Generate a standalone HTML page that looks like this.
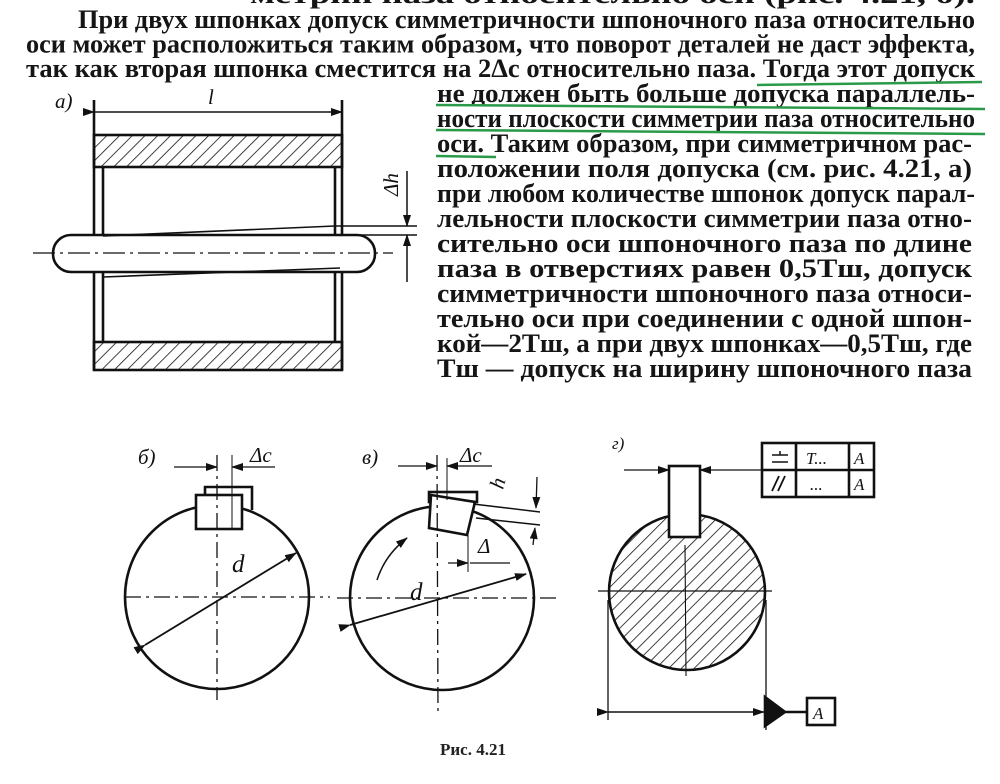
<!DOCTYPE html>
<html><head><meta charset="utf-8"><style>
html,body{margin:0;padding:0;background:#fff;}
svg{display:block}
.t{font-family:"Liberation Serif",serif;font-size:26px;fill:#151515;font-weight:bold}
</style></head><body>
<svg width="1000" height="784" viewBox="0 0 1000 784" xmlns="http://www.w3.org/2000/svg">
<defs>
<pattern id="h" width="9" height="9" patternUnits="userSpaceOnUse" patternTransform="rotate(45)">
<line x1="0" y1="0" x2="0" y2="9" stroke="#111" stroke-width="1.6"/>
</pattern>
<marker id="ar" markerWidth="12" markerHeight="8" refX="11" refY="4" orient="auto" markerUnits="userSpaceOnUse">
<path d="M0,0 L12,4 L0,8 z" fill="#111"/></marker>
</defs>
<g class="t">
<text x="250" y="3" textLength="725" lengthAdjust="spacingAndGlyphs">метрии паза относительно оси (рис. 4.21, б).</text>
<text x="78" y="28" textLength="897" lengthAdjust="spacingAndGlyphs">При двух шпонках допуск симметричности шпоночного паза относительно</text>
<text x="26" y="52.5" textLength="949" lengthAdjust="spacingAndGlyphs">оси может расположиться таким образом, что поворот деталей не даст эффекта,</text>
<text x="26" y="77" textLength="949" lengthAdjust="spacingAndGlyphs">так как вторая шпонка сместится на 2Δc относительно паза. Тогда этот допуск</text>
<text x="437" y="102" textLength="538" lengthAdjust="spacingAndGlyphs">не должен быть больше допуска параллель-</text>
<text x="437" y="127" textLength="538" lengthAdjust="spacingAndGlyphs">ности плоскости симметрии паза относительно</text>
<text x="437" y="152" textLength="535" lengthAdjust="spacingAndGlyphs">оси. Таким образом, при симметричном рас-</text>
<text x="437" y="177" textLength="535" lengthAdjust="spacingAndGlyphs">положении поля допуска (см. рис. 4.21, а)</text>
<text x="437" y="202" textLength="538" lengthAdjust="spacingAndGlyphs">при любом количестве шпонок допуск парал-</text>
<text x="437" y="227" textLength="535" lengthAdjust="spacingAndGlyphs">лельности плоскости симметрии паза отно-</text>
<text x="437" y="252" textLength="535" lengthAdjust="spacingAndGlyphs">сительно оси шпоночного паза по длине</text>
<text x="437" y="277" textLength="535" lengthAdjust="spacingAndGlyphs">паза в отверстиях равен 0,5Tш, допуск</text>
<text x="437" y="302" textLength="535" lengthAdjust="spacingAndGlyphs">симметричности шпоночного паза относи-</text>
<text x="437" y="327" textLength="535" lengthAdjust="spacingAndGlyphs">тельно оси при соединении с одной шпон-</text>
<text x="437" y="352" textLength="535" lengthAdjust="spacingAndGlyphs">кой—2Tш, а при двух шпонках—0,5Tш, где</text>
<text x="437" y="377" textLength="535" lengthAdjust="spacingAndGlyphs">Tш — допуск на ширину шпоночного паза</text>
</g>
<g stroke="#2a9a4a" stroke-width="2.5" fill="none">
<path d="M757 85 L982 82"/><path d="M436 105 L985 109"/><path d="M436 130 L985 134"/><path d="M436 156 L496 157"/>
</g>
<g stroke="#111" fill="none" stroke-width="2.6">
<rect x="94" y="135" width="248" height="32" fill="url(#h)"/>
<rect x="94" y="342" width="248" height="28" fill="url(#h)"/>
<line x1="94" y1="100" x2="94" y2="370"/><line x1="342" y1="100" x2="342" y2="370"/>
<line x1="103" y1="167" x2="103" y2="342"/><line x1="335" y1="167" x2="335" y2="342"/>
<line x1="94" y1="112" x2="342" y2="112" stroke-width="1.5" marker-start="url(#ar)" marker-end="url(#ar)"/>
<rect x="53" y="235" width="322" height="37" rx="18" fill="#fff"/>
<line x1="33" y1="253" x2="393" y2="253" stroke-width="1.3" stroke-dasharray="22,5,3,5"/>
<path d="M103 236 L335 226 L417 226 M342 235 L417 235 M103 277 L340 268" stroke-width="1.6"/>
<line x1="407" y1="171" x2="407" y2="226" stroke-width="1.5" marker-end="url(#ar)"/>
<line x1="407" y1="282" x2="407" y2="235" stroke-width="1.5" marker-end="url(#ar)"/>
<circle cx="217" cy="597" r="92"/>
<path d="M205 510 L205 487 L252 487 L252 510"/>
<rect x="196" y="495" width="46" height="34" fill="#fff"/>
<line x1="125" y1="597" x2="330" y2="597" stroke-width="1.3" stroke-dasharray="16,5,3,5"/>
<line x1="217" y1="455" x2="217" y2="700" stroke-width="1.3" stroke-dasharray="16,5,3,5"/>
<line x1="232" y1="455" x2="232" y2="528" stroke-width="1"/>
<line x1="174" y1="467" x2="217" y2="467" stroke-width="1.3" marker-end="url(#ar)"/>
<line x1="275" y1="467" x2="232" y2="467" stroke-width="1.3" marker-end="url(#ar)"/>
<line x1="145" y1="645" x2="296" y2="553" stroke-width="1.8" marker-start="url(#ar)" marker-end="url(#ar)"/>
<circle cx="442" cy="598" r="92"/>
<rect x="429" y="492" width="48" height="10"/>
<path d="M431 495 L475 502 L467 535 L429 528 Z" fill="#fff"/>
<line x1="337" y1="598" x2="558" y2="598" stroke-width="1.3" stroke-dasharray="16,5,3,5"/>
<line x1="437" y1="455" x2="438" y2="715" stroke-width="1.3" stroke-dasharray="16,5,3,5"/>
<line x1="447" y1="458" x2="447" y2="500" stroke-width="1"/>
<line x1="398" y1="466" x2="437" y2="466" stroke-width="1.3" marker-end="url(#ar)"/>
<line x1="492" y1="466" x2="447" y2="466" stroke-width="1.3" marker-end="url(#ar)"/>
<path d="M473 504 L540 512 M476 518 L540 525" stroke-width="1.5"/>
<line x1="537" y1="477" x2="536" y2="508" stroke-width="1.3" marker-end="url(#ar)"/>
<line x1="533" y1="545" x2="535" y2="528" stroke-width="1.3" marker-end="url(#ar)"/>
<line x1="468" y1="535" x2="468" y2="572" stroke-width="1"/>
<line x1="448" y1="563" x2="468" y2="563" stroke-width="1.3" marker-end="url(#ar)"/>
<line x1="510" y1="563" x2="470" y2="563" stroke-width="1.3"/>
<line x1="350" y1="625" x2="526" y2="574" stroke-width="1.8" marker-start="url(#ar)" marker-end="url(#ar)"/>
<path d="M377 580 Q385 555 407 538" stroke-width="1.5" marker-end="url(#ar)"/>
<circle cx="687" cy="592" r="78" fill="url(#h)"/>
<rect x="669" y="466" width="31" height="71" fill="#fff"/>
<line x1="598" y1="591" x2="772" y2="591" stroke-width="1.3"/>
<line x1="685" y1="545" x2="686" y2="676" stroke-width="1.1"/>
<line x1="608" y1="600" x2="608" y2="720" stroke-width="1.3"/>
<line x1="766" y1="600" x2="766" y2="730" stroke-width="1.3"/>
<line x1="608" y1="712" x2="764" y2="712" stroke-width="1.5" marker-start="url(#ar)" marker-end="url(#ar)"/>
<path d="M765 697 L785 712 L765 726 Z" fill="#111"/>
<line x1="785" y1="712" x2="807" y2="712"/>
<rect x="807" y="698" width="28" height="27"/>
<line x1="624" y1="470" x2="669" y2="470" stroke-width="1.3" marker-end="url(#ar)"/>
<line x1="762" y1="470" x2="700" y2="470" stroke-width="1.3" marker-end="url(#ar)"/>
<rect x="762" y="443" width="112" height="54"/>
<line x1="762" y1="470" x2="874" y2="470"/>
<line x1="796" y1="443" x2="796" y2="497"/><line x1="849" y1="443" x2="849" y2="497"/>
<path d="M772 455 h16 M772 462 h16 M780 451 v4" stroke-width="1.5"/>
<path d="M772 491 L779 476 M778 491 L785 476" stroke-width="1.8"/>
</g>
<g font-family="Liberation Serif,serif" font-style="italic" fill="#111" font-size="21">
<text x="55" y="108">a)</text>
<text x="208" y="104">l</text>
<text x="398" y="196" transform="rotate(-90 398 196)">Δh</text>
<text x="138" y="464">б)</text>
<text x="250" y="462">Δc</text>
<text x="362" y="464">в)</text>
<text x="460" y="462">Δc</text>
<text x="503" y="490" transform="rotate(-75 503 490)">h</text>
<text x="478" y="553">Δ</text>
<text x="232" y="572" font-size="25">d</text>
<text x="410" y="600" font-size="25">d</text>
<text x="612" y="449" font-size="17">г)</text>
<text x="806" y="464" font-size="17">T...</text>
<text x="810" y="490" font-size="17">...</text>
<text x="854" y="464" font-size="17">A</text>
<text x="854" y="490" font-size="17">A</text>
<text x="813" y="719" font-size="17">A</text>
</g>
<text x="440" y="755" font-family="Liberation Serif,serif" font-weight="bold" font-size="17" fill="#222">Рис. 4.21</text>
</svg>
</body></html>
